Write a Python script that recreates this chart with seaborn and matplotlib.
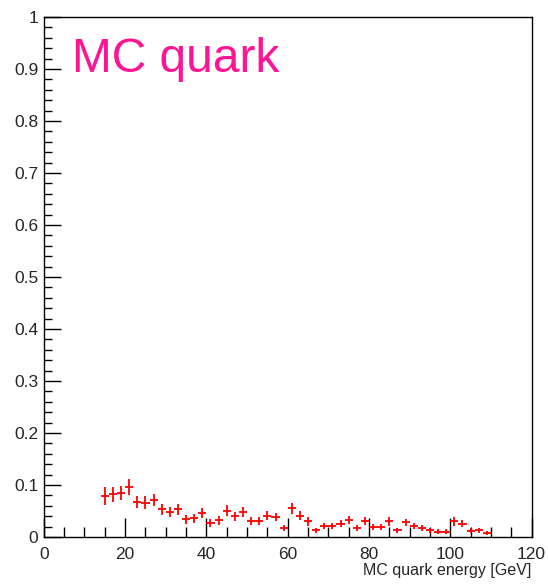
import numpy as np
import matplotlib
matplotlib.use("Agg")
import matplotlib.pyplot as plt
import seaborn as sns
from matplotlib.ticker import MultipleLocator

# bin centres (GeV), efficiency-like values and their errors
energy = [15, 17, 19, 21, 23, 25, 27, 29, 31, 33, 35, 37, 39, 41, 43, 45,
          47, 49, 51, 53, 55, 57, 59, 61, 63, 65, 67, 69, 71, 73, 75, 77,
          79, 81, 83, 85, 87, 89, 91, 93, 95, 97, 99, 101, 103, 105, 107, 109]
values = [0.079, 0.082, 0.085, 0.096, 0.067, 0.066, 0.071, 0.053, 0.048, 0.053,
          0.034, 0.036, 0.046, 0.027, 0.032, 0.051, 0.040, 0.048, 0.031, 0.031,
          0.041, 0.038, 0.017, 0.055, 0.041, 0.030, 0.013, 0.021, 0.021, 0.026,
          0.033, 0.017, 0.031, 0.020, 0.020, 0.030, 0.013, 0.028, 0.021, 0.017,
          0.013, 0.010, 0.010, 0.030, 0.026, 0.012, 0.013, 0.007]
errors = [0.017, 0.015, 0.014, 0.016, 0.012, 0.012, 0.012, 0.010, 0.010, 0.010,
          0.009, 0.009, 0.010, 0.008, 0.008, 0.010, 0.009, 0.009, 0.008, 0.008,
          0.009, 0.008, 0.006, 0.010, 0.009, 0.008, 0.005, 0.006, 0.006, 0.007,
          0.008, 0.006, 0.008, 0.006, 0.006, 0.008, 0.005, 0.007, 0.006, 0.006,
          0.005, 0.005, 0.005, 0.008, 0.007, 0.005, 0.005, 0.004]
bin_half = 1.0
ytick_labels = ["0", "0.1", "0.2", "0.3", "0.4", "0.5", "0.6", "0.7", "0.8", "0.9", "1"]

sns.set_style("ticks")
plt.rcParams["font.family"] = ["Liberation Sans", "DejaVu Sans"]

fig = plt.figure(figsize=(5.48, 5.85), dpi=100)
ax = fig.add_axes([0.080, 0.082, 0.890, 0.889])

ax.errorbar(energy, values, yerr=errors, xerr=bin_half, fmt="none",
            ecolor="#ff0000", elinewidth=1.3, capsize=0)

ax.set_xlim(0, 120)
ax.set_ylim(0, 1)
ax.xaxis.set_major_locator(MultipleLocator(20))
ax.xaxis.set_minor_locator(MultipleLocator(5))
ax.yaxis.set_minor_locator(MultipleLocator(0.02))
ax.set_yticks(np.arange(0, 1.01, 0.1))
ax.set_yticklabels(ytick_labels)

ax.tick_params(which="both", direction="in", top=False, right=False, width=1.0,
               color="black", labelsize=12.5)
ax.tick_params(axis="x", which="major", length=14, pad=7)
ax.tick_params(axis="x", which="minor", length=7)
ax.tick_params(axis="y", which="major", length=12, pad=4)
ax.tick_params(axis="y", which="minor", length=6)
for s in ax.spines.values():
    s.set_linewidth(1.0)
    s.set_color("black")

ax.set_xlabel("MC quark energy [GeV]", fontsize=11.5, loc="right", labelpad=1)
ax.text(0.058, 0.962, "MC quark", transform=ax.transAxes, color="#ff1493",
        fontsize=34.5, ha="left", va="top")

fig.savefig("out.png", dpi=100)
plt.close(fig)
